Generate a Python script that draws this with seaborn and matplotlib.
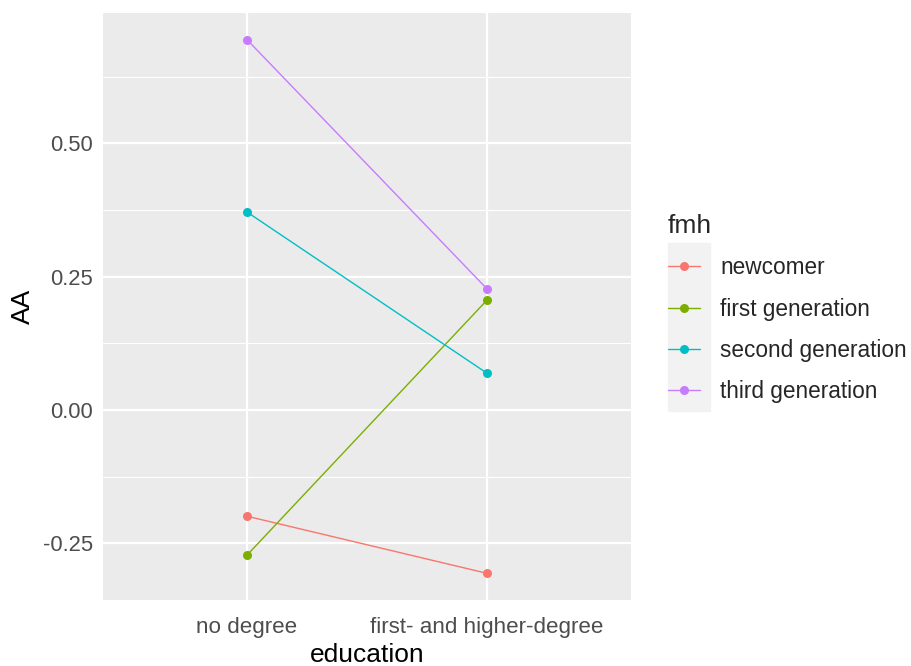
import matplotlib
matplotlib.use("Agg")
import matplotlib.pyplot as plt
from matplotlib.lines import Line2D
from matplotlib.patches import Rectangle
import seaborn as sns
import pandas as pd

education = ["no degree", "first- and higher-degree"]
fmh = ["newcomer", "first generation", "second generation", "third generation"]
newcomer = [-0.199, -0.306]
first_generation = [-0.272, 0.206]
second_generation = [0.371, 0.069]
third_generation = [0.694, 0.227]
colors = ["#F8766D", "#7CAE00", "#00BFC4", "#C77CFF"]

series = [newcomer, first_generation, second_generation, third_generation]
rows = []
for g, vals in zip(fmh, series):
    for e, v in zip(education, vals):
        rows.append({"education": e, "AA": v, "fmh": g})
df = pd.DataFrame(rows)

sns.set_theme(style="darkgrid")
plt.rcParams["font.family"] = ["Liberation Sans", "DejaVu Sans"]

fig = plt.figure(figsize=(9.12, 6.66), dpi=100)
ax = fig.add_axes([103/912, 1-600/666, (631-103)/912, (600-13)/666])
ax.set_facecolor("#EBEBEB")

pal = dict(zip(fmh, colors))
sns.lineplot(data=df, x="education", y="AA", hue="fmh", hue_order=fmh,
             palette=pal, marker="o", markersize=6.5, markeredgewidth=0,
             linewidth=1.0, ax=ax, legend=False, sort=False)

ax.set_xlim(-0.6, 1.6)
ax.set_ylim(-0.356, 0.744)
ax.set_xticks([0, 1])
ax.set_xticklabels(education)
ax.set_yticks([-0.25, 0.0, 0.25, 0.5])
ax.set_yticklabels(["-0.25", "0.00", "0.25", "0.50"])
ax.set_yticks([-0.125, 0.125, 0.375, 0.625], minor=True)

ax.grid(True, which="major", color="white", linewidth=1.6)
ax.grid(True, which="minor", axis="y", color="white", linewidth=0.8)
ax.set_axisbelow(True)
for s in ax.spines.values():
    s.set_visible(False)

ax.tick_params(axis="y", which="major", length=4, width=1.0, color="#333333",
               labelsize=15.8, labelcolor="#4D4D4D", pad=3)
ax.tick_params(axis="x", which="major", length=4, width=1.0, color="#333333",
               labelsize=16.1, labelcolor="#4D4D4D", pad=8)
ax.tick_params(axis="both", which="minor", length=0)
ax.set_xlabel("education", fontsize=19, color="black", labelpad=4)
ax.set_ylabel("AA", fontsize=19, color="black", labelpad=6)

fig.add_artist(Rectangle((668/912, 1-411/666), 42/912, 168/666,
                         transform=fig.transFigure, color="#F2F2F2", zorder=0))
handles = [Line2D([0], [0], color=c, marker="o", markersize=6.5,
                  markeredgewidth=0, linewidth=1.0) for c in colors]
leg = fig.legend(handles, fmh, title="fmh", loc="upper left",
                 bbox_to_anchor=(668/912, 1-214/666), frameon=False,
                 fontsize=16.3, title_fontsize=19, handlelength=1.4,
                 handletextpad=0.9, labelspacing=0.81, borderpad=0,
                 borderaxespad=0)
leg._legend_box.align = "left"

fig.savefig("out.png", dpi=100, facecolor="white")
